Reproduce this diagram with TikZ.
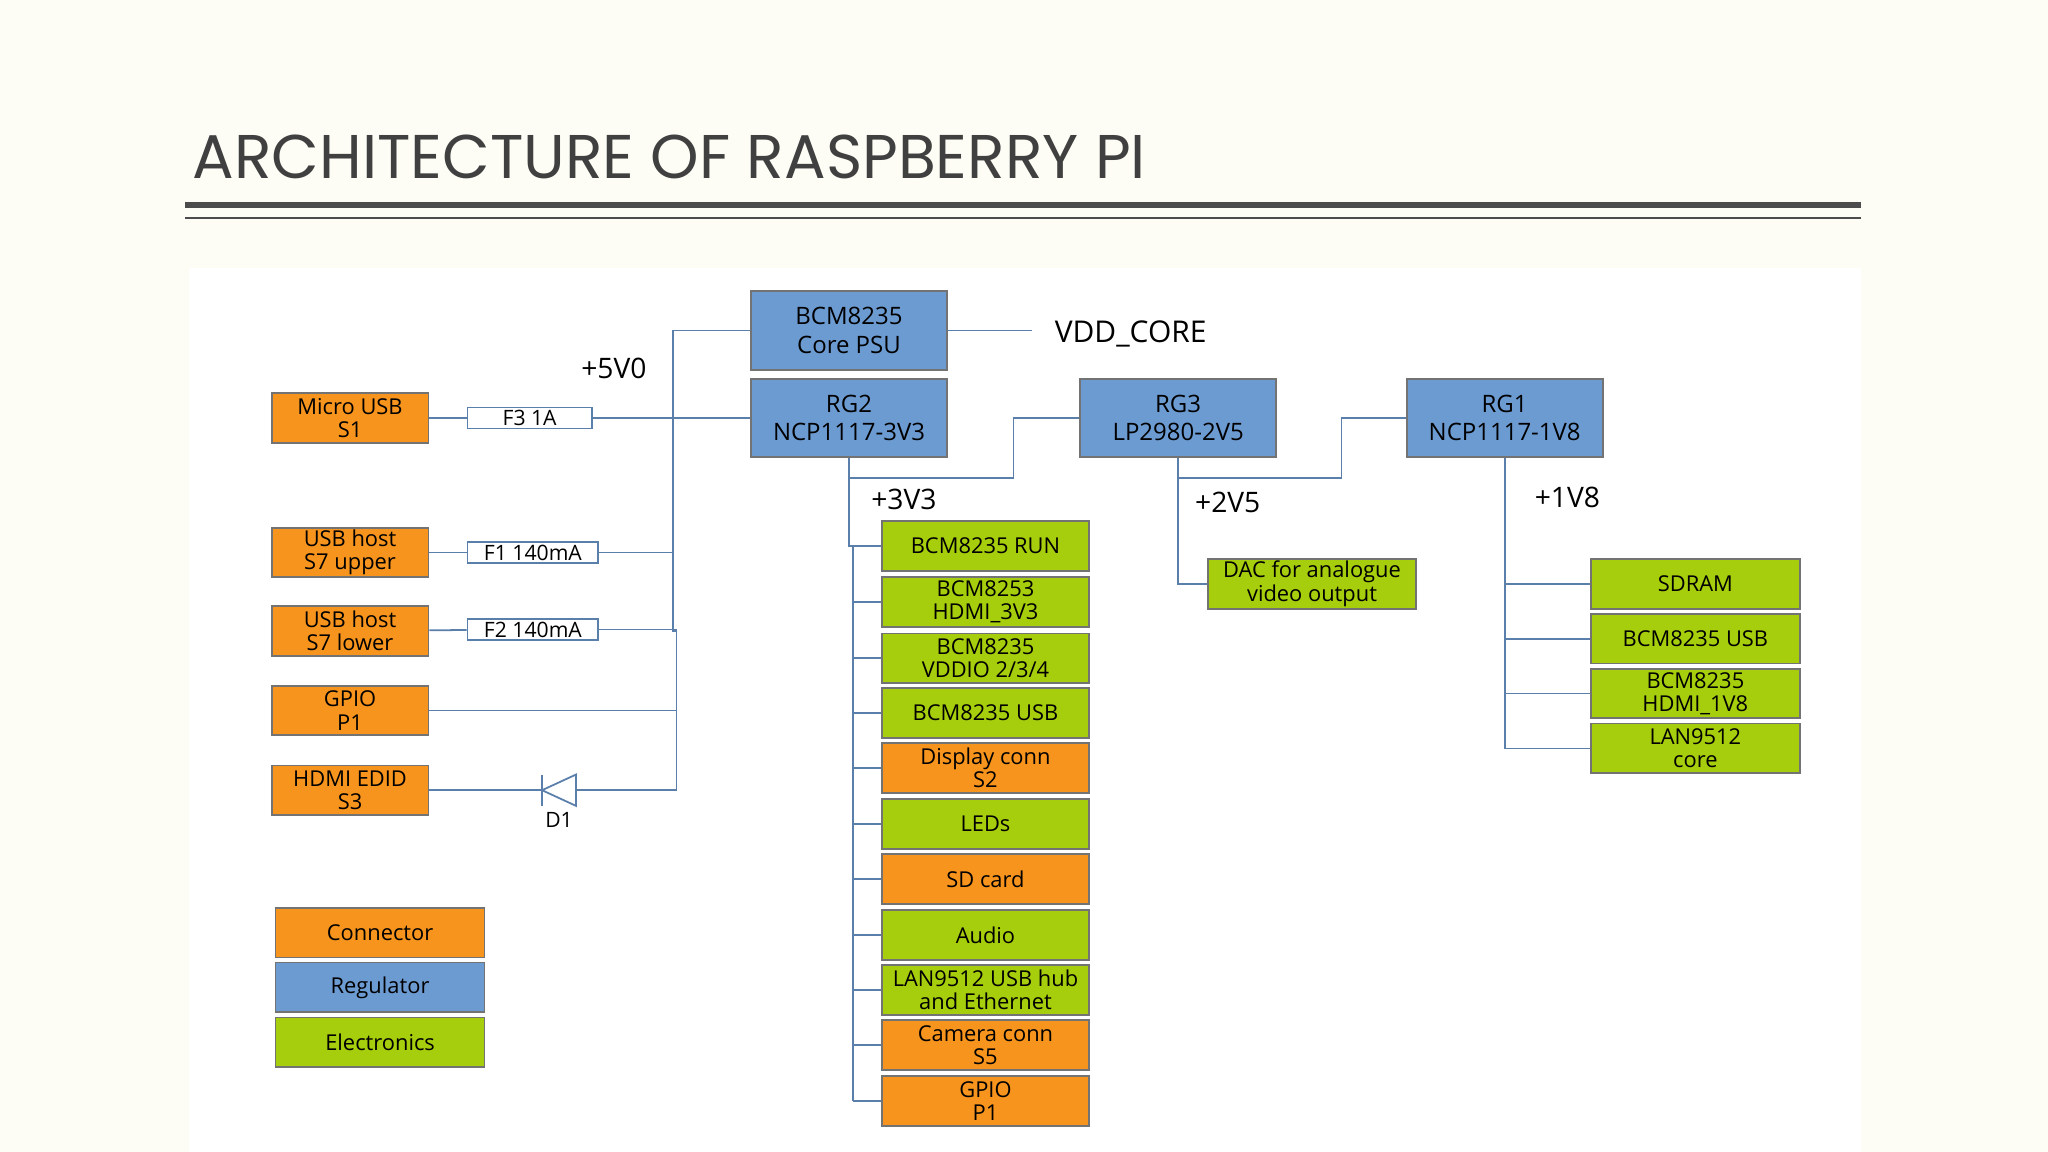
\documentclass[tikz,border=0pt]{standalone}
\usepackage{fontspec}
\setmainfont{Open Sans}
\newfontfamily\titlefont{Poppins}
\def\u{0.3703pt}
\definecolor{bg}{HTML}{FDFDF5}
\definecolor{org}{HTML}{F7941D}
\definecolor{reg}{HTML}{6C9BD2}
\definecolor{ele}{HTML}{A6CE0C}
\definecolor{wire}{HTML}{5A7FAA}
\begin{document}
\begin{tikzpicture}[x=0.3703pt,y=-0.3703pt,
  box/.style={draw=black!55, line width=0.5pt, align=center, inner sep=0pt,
    minimum width=120*\u, minimum height=38*\u, font=\fontsize{6.2}{6.6}\selectfont},
  con/.style={box, fill=org},
  el/.style={box, fill=ele, minimum width=159*\u},
  rg/.style={box, fill=reg, minimum width=150*\u, minimum height=60*\u, font=\fontsize{6.8}{8}\selectfont},
  fuse/.style={draw=wire, fill=white, line width=0.5pt, inner sep=0pt, minimum height=16*\u,
    font=\fontsize{6}{6}\selectfont},
  w/.style={draw=wire, line width=0.5pt},
  lab/.style={font=\fontsize{8}{8}\selectfont}]
\useasboundingbox[fill=bg] (0,0) rectangle (1568,882);
\fill[white] (145,205) rectangle (1425,882);
% title
\node[anchor=west, text=black!75, font=\titlefont\fontsize{17.5}{18}\selectfont] (title) at (138,120) {ARCHITECTURE OF RASPBERRY PI};
\draw[black!70, line width=1.6pt] (142,157) -- (1425,157);
\draw[black!70, line width=0.5pt] (142,167) -- (1425,167);
% connectors on the left
\node[con] (mu) at (268,320) {Micro USB\\S1};
\node[con] (uu) at (268,423) {USB host\\S7 upper};
\node[con] (ul) at (268,483) {USB host\\S7 lower};
\node[con] (gp) at (268,544) {GPIO\\P1};
\node[con] (hd) at (268,605) {HDMI EDID\\S3};
\node[fuse, minimum width=95*\u] (f3) at (405.5,320) {F3 1A};
\node[fuse, minimum width=100*\u] (f1) at (408,423) {F1 140mA};
\node[fuse, minimum width=100*\u] (f2) at (408,482) {F2 140mA};
% regulators
\node[rg] (psu) at (650,253) {BCM8235\\Core PSU};
\node[rg] (rg2) at (650,320) {RG2\\NCP1117-3V3};
\node[rg] (rg3) at (902,320) {RG3\\LP2980-2V5};
\node[rg] (rg1) at (1152,320) {RG1\\NCP1117-1V8};
\node[lab, anchor=west, font=\fontsize{8.5}{9}\selectfont] (vdd) at (798,256) {VDD\_CORE};
\node[lab] (v5) at (470,282) {+5V0};
\node[lab] (v33) at (692,382) {+3V3};
\node[lab] (v25) at (940,385) {+2V5};
\node[lab] (v18) at (1200,381) {+1V8};
% diode
\coordinate (dk) at (415,605);
\coordinate (da) at (441,605);
\draw[w, fill=white] (da) ++(0,-12) -- (dk) -- ++(26,12) -- cycle;
\draw[w] (415,593) -- (415,617);
\node[font=\fontsize{6}{6}\selectfont] (d1) at (428,628) {D1};
% 5V0 wiring
\coordinate (j1) at (515,253);
\coordinate (j2) at (515,483);
\coordinate (j3) at (518,483);
\coordinate (j4) at (518,605);
\draw[w] (mu) -- (f3) -- (rg2);
\draw[w] (j1) -- (psu);
\draw[w] (j1) -- (j2) -- (j3) -- (j4) -- (da);
\draw[w] (f1) -- (515,423);
\draw[w] (f2) -- (518,482);
\draw[w] (uu) -- (f1);
\draw[w] (ul) -- (f2);
\draw[w] (gp) -- (518,544);
\draw[w] (hd) -- (dk);
\draw[w] (psu) -- (790,253);
% 3V3 rail
\node[el] (e1) at (754.5,418) {BCM8235 RUN};
\node[el] (e2) at (754.5,461) {BCM8253\\HDMI\_3V3};
\node[el] (e3) at (754.5,504) {BCM8235\\VDDIO 2/3/4};
\node[el] (e4) at (754.5,546) {BCM8235 USB};
\node[con, minimum width=159*\u] (e5) at (754.5,588) {Display conn\\S2};
\node[el] (e6) at (754.5,631) {LEDs};
\node[con, minimum width=159*\u] (e7) at (754.5,673) {SD card};
\node[el] (e8) at (754.5,716) {Audio};
\node[el] (e9) at (754.5,758) {LAN9512 USB hub\\and Ethernet};
\node[con, minimum width=159*\u] (e10) at (754.5,800) {Camera conn\\S5};
\node[con, minimum width=159*\u] (e11) at (754.5,843) {GPIO\\P1};
\draw[w] (rg2.south) -- (650,418) -- (e1);
\draw[w] (650,366) -- (776,366) -- (776,320) -- (rg3);
\draw[w] (653,418) -- (653,843);
\foreach \n/\y in {e2/461,e3/504,e4/546,e5/588,e6/631,e7/673,e8/716,e9/758,e10/800,e11/843}
  \draw[w] (653,\y) -- (\n);
% 2V5 rail
\node[el] (dac) at (1004.5,447) {DAC for analogue\\video output};
\draw[w] (rg3.south) -- (902,447) -- (dac);
\draw[w] (902,366) -- (1027,366) -- (1027,320) -- (rg1);
% 1V8 rail
\node[el, minimum width=160*\u] (r1) at (1298,447) {SDRAM};
\node[el, minimum width=160*\u] (r2) at (1298,489) {BCM8235 USB};
\node[el, minimum width=160*\u] (r3) at (1298,531) {BCM8235\\HDMI\_1V8};
\node[el, minimum width=160*\u] (r4) at (1298,573) {LAN9512\\core};
\draw[w] (rg1.south) -- (1152,573) -- (r4);
\foreach \n/\y in {r1/447,r2/489,r3/531} \draw[w] (1152,\y) -- (\n);
% legend
\node[con, minimum width=160*\u] (lc) at (291,714) {Connector};
\node[rg, minimum width=160*\u, minimum height=38*\u, font=\fontsize{6.2}{6.6}\selectfont] (lr) at (291,756) {Regulator};
\node[el, minimum width=160*\u] (le) at (291,798) {Electronics};
\end{tikzpicture}
\end{document}
